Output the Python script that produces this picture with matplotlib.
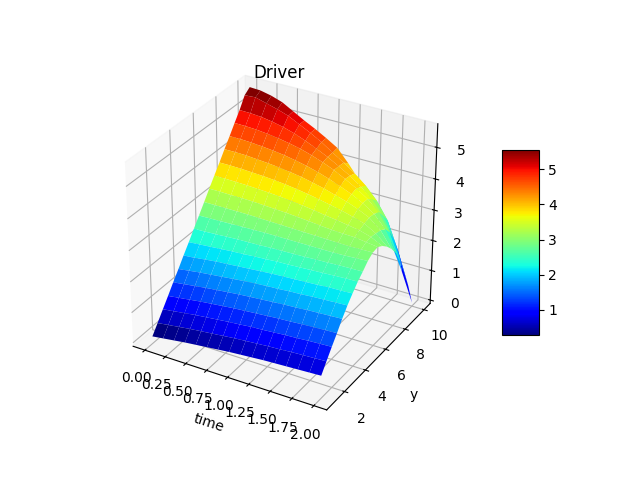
import numpy as np
import matplotlib
matplotlib.use("Agg")
import matplotlib.pyplot as plt

time_vals = [0.0, 0.133, 0.267, 0.4, 0.533, 0.667, 0.8, 0.933, 1.067, 1.2, 1.333, 1.467, 1.6, 1.733, 1.867, 2.0]
y_vals = [1.0, 1.47, 1.95, 2.42, 2.89, 3.37, 3.84, 4.32, 4.79, 5.26, 5.74, 6.21, 6.68, 7.16, 7.63, 8.11, 8.58, 9.05, 9.53, 10.0]
time_ticks = [0.0, 0.25, 0.5, 0.75, 1.0, 1.25, 1.5, 1.75, 2.0]

# one row per y value, one column per time value
driver = [
    [0.12, 0.17, 0.22, 0.27, 0.31, 0.35, 0.39, 0.43, 0.46, 0.49, 0.52, 0.54, 0.56, 0.58, 0.60, 0.62],
    [0.41, 0.46, 0.51, 0.56, 0.60, 0.64, 0.68, 0.72, 0.75, 0.78, 0.81, 0.83, 0.86, 0.88, 0.90, 0.92],
    [0.71, 0.76, 0.81, 0.86, 0.90, 0.94, 0.98, 1.01, 1.05, 1.07, 1.10, 1.13, 1.15, 1.18, 1.20, 1.22],
    [1.00, 1.05, 1.10, 1.15, 1.19, 1.23, 1.27, 1.30, 1.33, 1.36, 1.39, 1.41, 1.44, 1.46, 1.48, 1.50],
    [1.30, 1.35, 1.40, 1.45, 1.49, 1.53, 1.57, 1.60, 1.63, 1.66, 1.69, 1.71, 1.74, 1.76, 1.78, 1.80],
    [1.59, 1.64, 1.69, 1.73, 1.77, 1.81, 1.85, 1.88, 1.91, 1.93, 1.96, 1.98, 2.01, 2.03, 2.05, 2.07],
    [1.89, 1.92, 1.97, 2.01, 2.04, 2.07, 2.10, 2.13, 2.16, 2.18, 2.20, 2.22, 2.24, 2.27, 2.28, 2.30],
    [2.18, 2.21, 2.24, 2.27, 2.30, 2.32, 2.35, 2.37, 2.40, 2.41, 2.43, 2.45, 2.47, 2.49, 2.51, 2.52],
    [2.48, 2.49, 2.51, 2.53, 2.55, 2.56, 2.57, 2.59, 2.60, 2.61, 2.62, 2.64, 2.65, 2.67, 2.68, 2.69],
    [2.77, 2.78, 2.79, 2.80, 2.81, 2.82, 2.83, 2.83, 2.83, 2.83, 2.83, 2.83, 2.83, 2.84, 2.86, 2.88],
    [3.07, 3.07, 3.07, 3.07, 3.07, 3.06, 3.05, 3.04, 3.03, 3.02, 3.01, 3.00, 2.99, 2.98, 2.99, 3.00],
    [3.37, 3.37, 3.36, 3.36, 3.35, 3.33, 3.31, 3.29, 3.26, 3.23, 3.19, 3.16, 3.14, 3.13, 3.08, 3.03],
    [3.66, 3.66, 3.65, 3.64, 3.62, 3.60, 3.57, 3.53, 3.49, 3.44, 3.38, 3.33, 3.27, 3.21, 3.10, 2.92],
    [3.95, 3.95, 3.94, 3.92, 3.90, 3.87, 3.83, 3.78, 3.72, 3.65, 3.57, 3.49, 3.39, 3.28, 3.07, 2.75],
    [4.25, 4.25, 4.24, 4.21, 4.18, 4.14, 4.09, 4.03, 3.95, 3.86, 3.75, 3.64, 3.50, 3.33, 3.03, 2.53],
    [4.54, 4.54, 4.52, 4.49, 4.45, 4.40, 4.33, 4.25, 4.15, 4.03, 3.89, 3.74, 3.55, 3.31, 2.92, 2.25],
    [4.84, 4.83, 4.81, 4.77, 4.72, 4.65, 4.57, 4.46, 4.33, 4.18, 3.99, 3.79, 3.55, 3.23, 2.68, 1.82],
    [5.13, 5.12, 5.09, 5.03, 4.95, 4.84, 4.70, 4.54, 4.37, 4.17, 3.96, 3.70, 3.40, 2.97, 2.30, 1.30],
    [5.48, 5.50, 5.40, 5.30, 5.18, 5.00, 4.82, 4.62, 4.38, 4.15, 3.90, 3.60, 3.22, 2.68, 1.78, 0.72],
    [5.62, 5.60, 5.52, 5.40, 5.20, 5.00, 4.82, 4.62, 4.40, 4.00, 3.55, 3.00, 2.45, 1.75, 0.95, 0.0],
]

fig = plt.figure()
ax = fig.add_subplot(projection='3d')

T, Y = np.meshgrid(time_vals, y_vals)
surf = ax.plot_surface(T, Y, np.array(driver), cmap='jet', linewidth=0)
fig.colorbar(surf, shrink=0.5, aspect=5)

# old mplot3d look: taller box, further left
ax.set_box_aspect((3.72, 3.72, 3.5), zoom=0.995)
pos = ax.get_position()
ax.set_position([pos.x0 - 0.02, pos.y0 + 0.003, pos.width, pos.height])

ax.set_title('Driver', y=0.997)
ax.set_xticks(time_ticks)
ax.tick_params(axis='x', pad=2.5)
ax.set_xlabel('time', labelpad=1)
ax.xaxis.set_rotate_label(True)
ax.set_ylabel('y', labelpad=3)

fig.savefig('out.png')
